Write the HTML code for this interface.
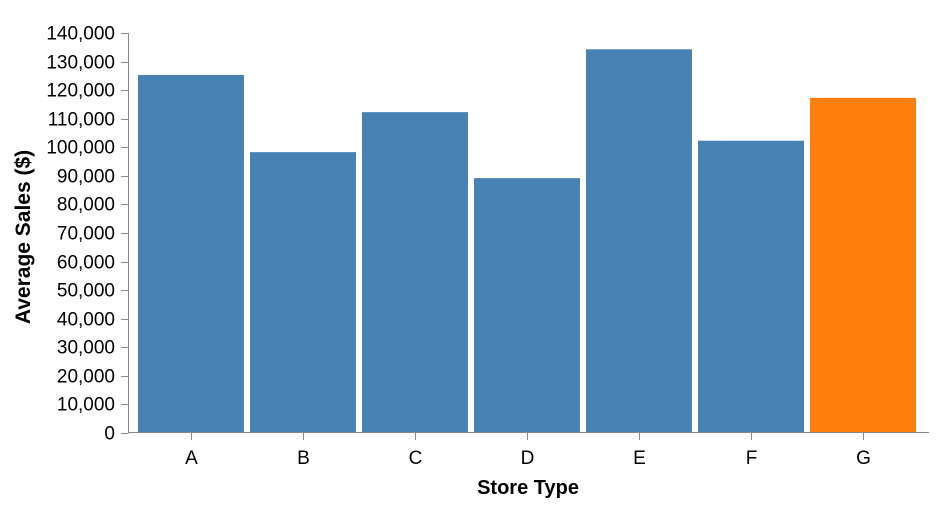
<!DOCTYPE html>
<html><head><meta charset="utf-8"><style>
body{margin:0;background:#fff;}
svg{display:block;font-family:"Liberation Sans",Arial,sans-serif;}
</style></head><body>
<svg id="chart" width="938" height="506" viewBox="0 0 938 506"></svg>
<script>
const categories=["A","B","C","D","E","F","G"];
const values=[125300,98300,112300,89200,134300,102300,117300];
const highlight=["G"];
const yTicks=[0,10000,20000,30000,40000,50000,60000,70000,80000,90000,100000,110000,120000,130000,140000];

const svg=document.getElementById('chart');
const NS="http://www.w3.org/2000/svg";
function mk(t,a,p){const e=document.createElementNS(NS,t);for(const k in a)e.setAttribute(k,a[k]);(p||svg).appendChild(e);return e;}
const y0=433,y1=33,yMax=140000;
function y(v){return y0-(v/yMax)*(y0-y1);}
const step=112,bw=106,xStart=138;
function x(i){return xStart+i*step;}

const bars=mk('g',{});


categories.forEach((c,i)=>{
  const r=mk('rect',{x:x(i),y:y(values[i]),width:bw,height:y0-y(values[i]),fill:highlight.includes(c)?'#ff7f0e':'#4682b4'},bars);
  
  
});

const ya=mk('g',{});


mk('line',{x1:128.5,x2:128.5,y1:y1,y2:y0,stroke:'#888','stroke-width':1},ya);
yTicks.forEach(t=>{
  const yy=Math.round(y(t))+0.5;
  mk('line',{x1:121,x2:128.5,y1:yy,y2:yy,stroke:'#888'},ya);
  const tx=mk('text',{x:115,y:yy+6,'text-anchor':'end','font-size':19,fill:'#000'},ya);
  tx.textContent=t.toLocaleString('en-US');
  
  
});
const yt=mk('text',{transform:'translate(30,237) rotate(-90)','text-anchor':'middle','font-size':21,'font-weight':'bold'},ya);
yt.textContent='Average Sales ($)';



const xa=mk('g',{});


mk('line',{x1:128,x2:929,y1:432.5,y2:432.5,stroke:'#888'},xa);
categories.forEach((c,i)=>{
  const cx=Math.round(x(i)+bw/2)+0.5;
  mk('line',{x1:cx,x2:cx,y1:432.5,y2:440,stroke:'#888'},xa);
  const tx=mk('text',{x:cx,y:464,'text-anchor':'middle','font-size':19},xa);
  tx.textContent=c;
  
  
});
const xt=mk('text',{x:528,y:494,'text-anchor':'middle','font-size':20,'font-weight':'bold'},xa);
xt.textContent='Store Type';


</script>
</body></html>
